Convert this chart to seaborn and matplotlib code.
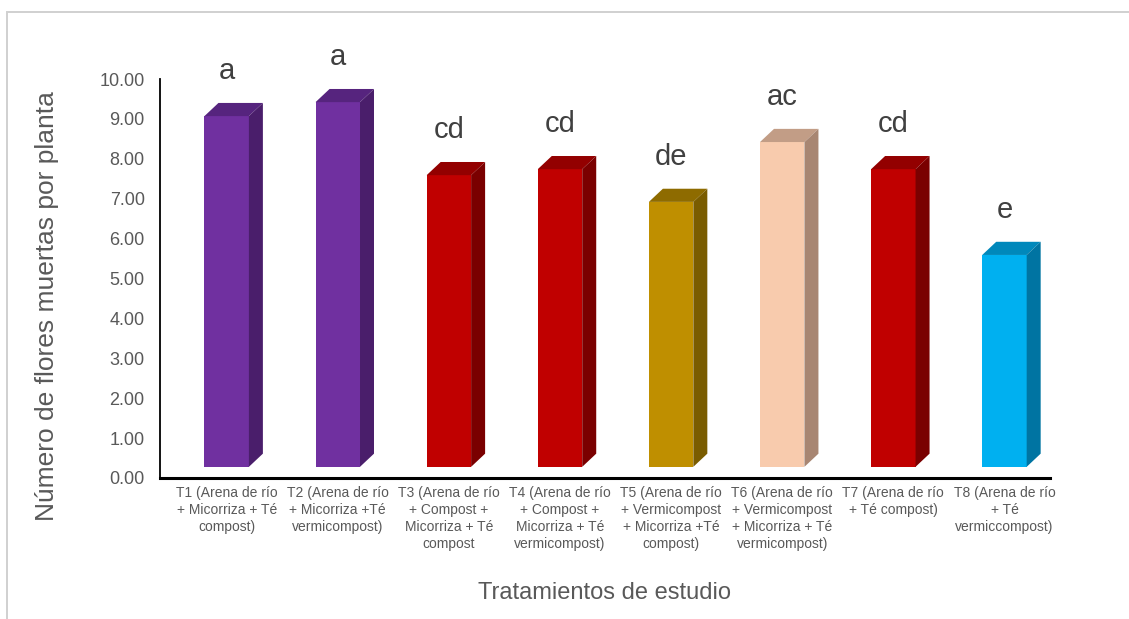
import matplotlib
matplotlib.use("Agg")
import matplotlib.pyplot as plt
from matplotlib.patches import Polygon, Rectangle
from matplotlib import font_manager
import seaborn as sns
import pandas as pd

# datos
tratamientos = [
    "T1 (Arena de río\n+ Micorriza + Té\ncompost)",
    "T2 (Arena de río\n+ Micorriza +Té\nvermicompost)",
    "T3 (Arena de río\n+ Compost +\nMicorriza + Té\ncompost",
    "T4 (Arena de río\n+ Compost +\nMicorriza + Té\nvermicompost)",
    "T5 (Arena de río\n+ Vermicompost\n+ Micorriza +Té\ncompost)",
    "T6 (Arena de río\n+ Vermicompost\n+ Micorriza + Té\nvermicompost)",
    "T7 (Arena de río\n+ Té compost)",
    "T8 (Arena de río\n+ Té\nvermiccompost)",
]
flores_muertas = [9.07, 9.42, 7.59, 7.74, 6.92, 8.42, 7.74, 5.59]
letras = ["a", "a", "cd", "cd", "de", "ac", "cd", "e"]

# colores: frente, tapa, lateral
c_frente = ["#7030A0", "#7030A0", "#C00000", "#C00000", "#BF8F00", "#F8CBAD", "#C00000", "#00B0F0"]
c_tapa = ["#56247E", "#56247E", "#930000", "#930000", "#8E6B00", "#C29D86", "#930000", "#0088BB"]
c_lado = ["#4A1E6B", "#4A1E6B", "#7A0000", "#7A0000", "#7A5C00", "#A88672", "#7A0000", "#0074A2"]

df = pd.DataFrame({"tratamiento": tratamientos, "valor": flores_muertas})

sns.set_style("white")
plt.rcParams["font.family"] = ["Liberation Sans", "DejaVu Sans"]

# fuente estrecha para las etiquetas del eje x, si existe
nombres = {f.name for f in font_manager.fontManager.ttflist}
if "Liberation Sans Narrow" in nombres:
    fuente_x, tam_x = ["Liberation Sans Narrow", "Liberation Sans"], 11.5
else:
    fuente_x, tam_x = ["Liberation Sans", "DejaVu Sans"], 10

fig = plt.figure(figsize=(11.29, 6.19), dpi=100)
# marco gris del area del grafico
fig.patches.append(Rectangle((7 / 1129, -0.1), 1.2, 1 - 12 / 619 + 0.1, transform=fig.transFigure,
                             fill=False, edgecolor="#D0D0D0", linewidth=1.4))

ax = fig.add_axes([160 / 1129, (619 - 478) / 619, 890 / 1129, 399 / 619])
sns.barplot(data=df, x="tratamiento", y="valor", hue="tratamiento", palette=c_frente,
            legend=False, width=0.4, saturation=1, ax=ax)

# efecto 3D: profundidad en unidades de datos
dx, dy, piso = 0.126, 0.33, 0.28
barras = sorted(ax.patches, key=lambda p: p.get_x())
for i, p in enumerate(barras):
    x, w, h = p.get_x(), p.get_width(), p.get_height()
    p.set_y(piso)
    p.set_height(h - piso)
    p.set_edgecolor("none")
    ax.add_patch(Polygon([(x, h), (x + w, h), (x + w + dx, h + dy), (x + dx, h + dy)],
                         closed=True, facecolor=c_tapa[i], edgecolor="none"))
    ax.add_patch(Polygon([(x + w, piso), (x + w + dx, piso + dy), (x + w + dx, h + dy), (x + w, h)],
                         closed=True, facecolor=c_lado[i], edgecolor="none"))
    ax.text(x + w / 2, h + 0.93, letras[i], ha="center", va="baseline",
            fontsize=21, color="#404040", clip_on=False)

ax.set_xlim(-0.6, 7.41)
ax.set_ylim(0, 10)
ax.set_yticks(range(0, 11))
ax.set_yticklabels([f"{v:.2f}" for v in range(0, 11)])
ax.tick_params(axis="y", length=0, pad=11, labelsize=13, labelcolor="#595959")
ax.tick_params(axis="x", length=0, pad=6, labelcolor="#595959")
for lbl in ax.get_xticklabels():
    lbl.set_fontfamily(fuente_x)
    lbl.set_fontsize(tam_x)
    lbl.set_linespacing(1.27)

for s in ["top", "right"]:
    ax.spines[s].set_visible(False)
ax.spines["left"].set_color("black")
ax.spines["left"].set_linewidth(1.3)
ax.spines["bottom"].set_color("black")
ax.spines["bottom"].set_linewidth(2.2)

ax.set_xlabel("Tratamientos de estudio", fontsize=17, color="#595959", labelpad=22)
ax.set_ylabel("Número de flores muertas por planta", fontsize=19, color="#595959")
ax.yaxis.set_label_coords(-0.113, 0.43)

fig.savefig("out.png", dpi=100)
